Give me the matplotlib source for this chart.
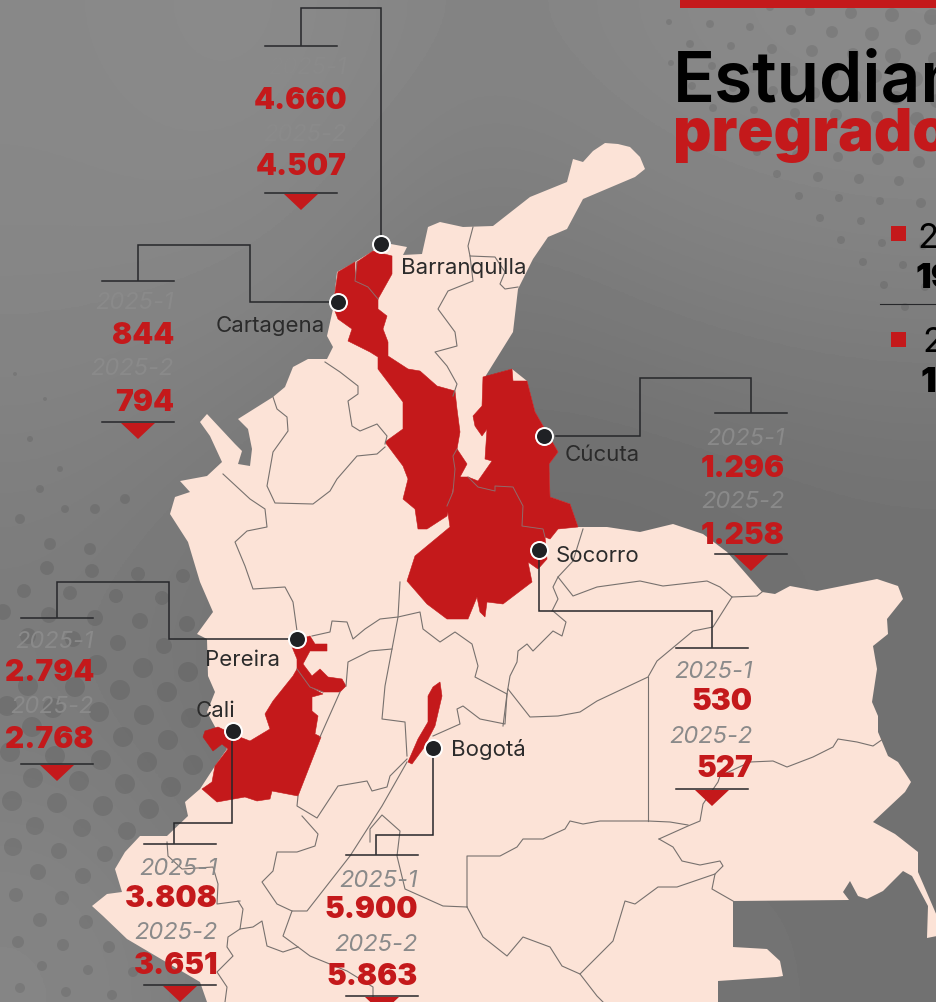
import numpy as np
import matplotlib
matplotlib.use("Agg")
import matplotlib.pyplot as plt
from matplotlib.patches import Polygon

# ---- data ----
cities = ["Barranquilla", "Cartagena", "Cúcuta", "Socorro", "Bogotá", "Cali", "Pereira"]
values_2025_1 = ["4.660", "844", "1.296", "530", "5.900", "3.808", "2.794"]
values_2025_2 = ["4.507", "794", "1.258", "527", "5.863", "3.651", "2.768"]
period_1 = "2025-1"
period_2 = "2025-2"

country = [(605,144),(618,145),(630,148),(640,158),(645,170),(635,178),(583,200),(567,230),(548,238),(533,260),(518,290),(513,333),(485,378),
 (512,370),(527,382),(535,413),(558,453),(549,465),(550,498),(570,505),(578,528),(607,528),(640,533),(673,525),(703,535),
 (727,553),(762,593),(775,595),(790,587),(817,592),(877,580),(898,587),(903,600),(887,620),(888,635),(873,647),(877,670),
 (872,703),(878,717),(878,733),(888,757),(898,763),(911,783),(905,793),(873,823),(895,835),(918,853),(918,873),(937,917),
 (937,937),(927,939),(928,907),(912,877),(903,872),(883,892),(867,900),(858,897),(850,882),(843,893),(849,901),(733,902),
 (733,948),(767,950),(780,962),(783,977),(777,978),(718,982),(718,1003),(207,1003),(200,983),(127,940),(103,917),(92,907),
 (107,895),(122,893),(115,870),(125,853),(140,837),(167,837),(188,817),(185,803),(200,790),(215,767),(227,750),(207,713),
 (215,693),(208,677),(207,640),(197,635),(213,613),(200,583),(188,543),(170,515),(175,498),(190,493),(180,482),(207,477),
 (222,463),(210,437),(200,423),(207,415),(235,445),(242,452),(238,465),(250,467),(252,450),(248,430),(238,420),(273,398),
 (285,388),(293,368),(308,360),(327,360),(333,348),(327,337),(333,310),(337,273),(355,263),(373,252),(380,243),(407,248),
 (403,256),(422,255),(428,228),(440,223),(463,228),(493,227),(530,198),(567,183),(573,160),(583,163),(593,152)]

atlantico = [(373,252),(392,257),(392,275),(378,300),(368,288),(355,282),(357,263)]
bolivar = [(355,263),(355,282),(368,288),(378,300),(378,310),(387,317),(383,330),(388,343),(388,357),(408,370),(420,372),
 (437,387),(455,392),(457,410),(460,433),(457,450),(455,480),(447,517),(427,530),(418,530),(415,510),(403,500),(408,480),
 (403,467),(385,443),(403,430),(403,403),(378,370),(378,358),(370,353),(348,342),(352,330),(338,320),(333,307),(338,273)]
norte = [(483,378),(512,370),(513,382),(527,382),(535,413),(558,453),(549,465),(550,498),(570,505),(578,528),(558,530),
 (550,540),(545,538),(543,530),(522,527),(523,507),(513,488),(495,487),(495,492),(478,488),(468,478),(478,482),(492,462),
 (485,460),(487,430),(482,437),(475,427),(473,417),(482,407)]
santander = [(468,478),(478,488),(495,492),(495,487),(513,488),(523,507),(522,527),(543,530),(545,538),(547,560),(538,570),
 (528,563),(532,583),(503,605),(487,603),(485,618),(480,613),(477,598),(468,620),(447,620),(427,605),(407,582),(415,557),
 (450,528),(447,507),(453,493),(455,470),(453,457),(457,450),(467,465),(460,478)]
risaralda = [(290,643),(310,637),(315,645),(327,645),(327,652),(310,652),(303,665),(312,677),(320,670),(328,678),(342,680),
 (346,687),(340,693),(323,693),(310,688),(297,670),(297,660)]
valle = [(297,670),(310,688),(323,695),(312,698),(312,712),(318,717),(315,735),(321,738),(298,797),(272,792),(270,800),
 (257,802),(245,798),(217,803),(202,790),(212,783),(215,767),(228,750),(222,745),(213,752),(203,738),(205,732),(218,728),
 (237,737),(250,742),(270,730),(265,715),(273,702),(293,677)]
boyaca = [(440,683),(442,697),(435,727),(423,750),(412,765),(408,763),(418,740),(428,723),(428,697),(433,688)]
red_regions = [atlantico, bolivar, norte, santander, risaralda, valle, boyaca]

borders = [
 [(473,228),(468,247),(470,257),(495,258),(505,273),(500,285),(505,290),(518,288)],
 [(470,257),(473,282),(448,292),(438,310),(455,333),(457,347),(435,353),(447,367),(457,385),(453,397)],
 [(325,363),(340,373),(358,387),(358,395),(348,402),(352,427),(360,432),(377,425),(387,437),(385,445)],
 [(385,448),(377,455),(357,457),(337,480),(330,492),(313,505),(275,504),(267,487),(273,453),(288,432),(287,418),(277,410),(273,398)],
 [(223,475),(250,500),(265,510),(267,528),(247,532),(235,543),(245,567),(253,590),(285,588),(293,603),(297,632)],
 [(400,583),(398,618),(392,650),(385,687),(382,720),(405,723),(407,757)],
 [(312,637),(330,633),(332,622),(347,623),(353,640),(365,630),(380,620),(398,618),(420,613),(423,630),(440,643),(455,633),
  (472,645),(478,667),(475,678),(507,695),(510,677),(517,663),(518,652),(527,645),(533,652),(553,632),(562,637),(566,623),(553,612)],
 [(346,687),(348,663),(370,652),(392,650)],
 [(340,693),(320,738)],
 [(407,760),(390,777),(387,788),(372,792),(367,782),(338,787),(317,819),(297,807),(298,797)],
 [(302,817),(318,835),(315,847),(297,853),(277,853),(273,872),(262,883),(277,905),(292,912),(307,912),(350,857),(382,807),(407,763)],
 [(370,843),(370,830),(382,816),(400,832),(397,857),(405,890),(443,907),(467,908)],
 [(292,912),(283,937),(298,948),(310,957),(347,972),(373,988),(373,1003)],
 [(238,902),(243,910),(240,930),(253,928),(262,922),(267,947),(283,953),(298,948)],
 [(240,930),(228,938),(227,948),(233,957),(217,973),(227,988),(225,1003)],
 [(167,843),(168,857),(182,870),(213,868),(218,885),(217,905),(240,902)],
 [(507,695),(503,727)],
 [(433,737),(460,725),(457,710),(463,707),(480,720),(505,725),(507,695)],
 [(467,908),(467,857),(500,857),(517,848),(523,840),(543,840),(565,830),(570,822),(583,825),(600,822),(648,822),(670,823),(688,826)],
 [(659,840),(688,827),(700,822),(703,805),(718,783),(720,777),(750,763),(773,762),(787,768),(813,758),(833,748),(838,740),(857,743),(873,747),(883,740)],
 [(659,840),(673,848),(682,862),(700,866),(720,862),(723,867),(715,875),(712,890),(733,902)],
 [(715,875),(677,888),(658,888),(635,905),(625,902),(613,942),(580,975),(597,997),(603,1003)],
 [(467,908),(483,938),(507,957),(523,938),(550,948),(562,967),(580,975)],
 [(648,678),(648,822)],
 [(508,690),(530,718),(558,717),(580,713),(597,702),(648,678),(657,662),(675,647),(693,632),(713,628),(732,598),(757,597),(762,593)],
 [(583,530),(573,562),(558,578),(553,588),(558,600),(552,612)],
 [(558,578),(573,597),(597,588),(640,582),(663,587),(707,582),(720,588),(732,598)],
]
borders_on_red = [
 [(357,263),(355,282),(368,288),(378,300)],
 [(468,478),(478,488),(495,492),(495,487),(513,488),(523,507),(522,527),(543,530),(545,538)],
 [(457,450),(453,457),(455,470),(453,493),(447,507)],
 [(297,670),(310,688),(323,693)],
]

# dots of the background
dots_left_x = [47,92,138,183,24,70,116,162,3,49,95,140,187,28,73,118,164,97,143,188,28,75,120,167,7,53,99,144,191,32,123,168,10,55,101,147,193,33,79,125,171,12,57,103,149,35,82,127,13,59,105,38,83,16,62,40,86,18,63,109,42,88,133,20,66,112,
               15,45,30,60,40,65,95,20,50,90,125]
dots_left_y = [569,572,575,577,592,594,597,599,613,616,619,622,625,637,640,644,647,666,669,673,687,688,691,693,707,709,713,716,719,728,738,741,753,757,761,763,766,779,782,785,788,802,804,807,810,827,829,832,848,852,855,873,877,896,899,921,923,943,946,948,967,971,973,989,993,996,
               375,400,440,470,490,510,510,520,545,550,500]
dots_left_r = [7,7,7,7,7,7,7,7,8,8,8,8,8,8,8,8,8,10,10,10,10,10,10,10,10,10,10,10,10,10,10,10,10,10,10,10,10,10,10,10,10,10,10,10,10,9,9,9,9,8,8,8,8,7,7,7,7,6,6,6,5,5,5,5,5,5,
               2,2,3,3,4,4,5,5,6,6,5]
dots_right_x = [669,710,750,791,832,872,913,770,810,851,892,932,690,731,772,812,853,893,935,671,712,753,793,833,875,915,692,733,773,814,855,896,937,713,754,795,836,877,917,757,797,838,878,919,777,818,859,899,799,839,880,921,820,861,841,882,923,863,903,884,925,905]
dots_right_y = [23,25,28,31,33,35,38,8,12,14,16,18,45,47,50,52,55,57,60,64,67,70,72,75,77,80,87,89,92,94,97,99,102,109,111,114,116,118,120,153,156,158,160,163,175,178,180,182,197,199,202,204,219,222,241,244,247,263,266,286,288,308]
dots_right_r = [3,4,4,5,6,7,8,4,5,6,7,8,4,4,5,6,6,8,7,3,4,4,5,6,7,8,4,4,5,6,6,7,7,4,4,5,6,6,7,4,5,5,6,6,4,5,5,5,4,4,4,5,4,4,4,4,4,4,4,4,4,4]

RED = "#c4191b"
PEACH = "#fce3d7"
DARK = "#26272a"
GREY = "#8a8a8a"
BORDER = "#77716e"

def fp(size, weight="normal", style="normal"):
    return dict(fontsize=size, fontweight=weight, fontstyle=style, family=["Inter", "Lato", "DejaVu Sans"])

fig = plt.figure(figsize=(9.37, 10.03), dpi=100)
ax = fig.add_axes([0, 0, 1, 1])
ax.set_xlim(0, 937)
ax.set_ylim(1003, 0)
ax.axis("off")

bg = np.array([[0x88,0x8c,0x82,0x88,0x8a],
               [0x86,0x84,0x74,0x7c,0x80],
               [0x7e,0x74,0x6e,0x6c,0x70],
               [0x7a,0x70,0x6e,0x70,0x72],
               [0x86,0x78,0x72,0x74,0x72]], dtype=float) / 255
ax.imshow(bg, extent=(0, 937, 1003, 0), cmap="gray", vmin=0, vmax=1, interpolation="bicubic", aspect="auto", zorder=0)

px2 = lambda r: (2 * np.asarray(r) * 0.72) ** 2
ax.scatter(dots_left_x, dots_left_y, s=px2(dots_left_r), color="black", alpha=0.09, lw=0, zorder=1)
ax.scatter(dots_right_x, dots_right_y, s=px2(dots_right_r), color="black", alpha=0.09, lw=0, zorder=1)

ax.add_patch(Polygon(country, closed=True, fc=PEACH, ec="none", zorder=2))
for reg in red_regions:
    ax.add_patch(Polygon(reg, closed=True, fc=RED, ec=RED, lw=0.4, zorder=3))
for b in borders:
    xs, ys = zip(*b)
    ax.plot(xs, ys, color=BORDER, lw=0.8, zorder=4, solid_joinstyle="round")
for b in borders_on_red:
    xs, ys = zip(*b)
    ax.plot(xs, ys, color="#8f6b6b", lw=0.7, zorder=4, solid_joinstyle="round")

# layout of each call-out
leaders = {
 "Barranquilla": [(381,245),(381,9),(301,9),(301,46)],
 "Cartagena": [(338,303),(250,303),(250,246),(138,246),(138,281)],
 "Cúcuta": [(556,437),(640,437),(640,379),(751,379),(751,413)],
 "Socorro": [(539,551),(539,612),(712,612),(712,648)],
 "Bogotá": [(433,749),(433,836),(376,836),(376,855)],
 "Cali": [(232,732),(232,824),(174,824),(174,844)],
 "Pereira": [(297,640),(169,640),(169,583),(57,583),(57,618)],
}
rows = {  # right edge, y label1, y value1, y label2, y value2, hline-top, hline-bottom, hline x0
 "Barranquilla": (347,68,101,135,167,47,194,265),
 "Cartagena": (174,303,336,369,403,282,423,102),
 "Cúcuta": (785,439,469,502,536,414,555,715),
 "Socorro": (753,672,702,737,769,649,790,676),
 "Bogotá": (418,881,910,945,977,856,997,346),
 "Cali": (218,869,899,933,966,845,986,144),
 "Pereira": (94,642,673,707,740,619,765,21),
}
points = {"Barranquilla":(381,245),"Cartagena":(338,303),"Cúcuta":(544,437),"Socorro":(539,551),"Bogotá":(433,749),"Cali":(233,732),"Pereira":(297,640)}
names = {"Barranquilla":(401,268,"left"),"Cartagena":(325,326,"right"),"Cúcuta":(565,455,"left"),"Socorro":(556,556,"left"),"Bogotá":(451,750,"left"),"Cali":(196,711,"left"),"Pereira":(205,660,"left")}

for i, c in enumerate(cities):
    xs, ys = zip(*leaders[c])
    ax.plot(xs, ys, color=DARK, lw=1.1, zorder=5, solid_joinstyle="miter")
    right, y1, v1, y2, v2, top, bot, x0 = rows[c]
    for yy in (top, bot):
        ax.plot([x0, x0 + 72], [yy, yy], color=DARK, lw=1.1, zorder=5)
    cx = x0 + 36
    ax.add_patch(Polygon([(cx-17, bot+1), (cx+17, bot+1), (cx, bot+17)], closed=True, fc=RED, ec="none", zorder=5))
    ax.text(right, y1, period_1, ha="right", va="center", color=GREY, zorder=6, **fp(17, style="italic"))
    ax.text(right, y2, period_2, ha="right", va="center", color=GREY, zorder=6, **fp(17, style="italic"))
    ax.text(right, v1, values_2025_1[i], ha="right", va="center", color=RED, zorder=6, **fp(21.5, weight="black"))
    ax.text(right, v2, values_2025_2[i], ha="right", va="center", color=RED, zorder=6, **fp(21.5, weight="black"))
    ax.scatter(*points[c], s=px2(9.5), color="white", lw=0, zorder=7)
    ax.scatter(*points[c], s=px2(7.5), color="#1f2124", lw=0, zorder=8)
    nx, ny, ha = names[c]
    ax.text(nx, ny, c, ha=ha, va="center", color="#2b2b2b", zorder=6, **fp(16))

# header
ax.add_patch(Polygon([(680,0),(937,0),(937,9),(680,9)], closed=True, fc=RED, ec="none", zorder=6))
ax.text(673, 101, "Estudian", ha="left", va="baseline", color="black", zorder=6, **fp(50, weight="semibold"))
ax.text(673, 151, "pregrado", ha="left", va="baseline", color=RED, zorder=6, **fp(43, weight="black"))
for y in (227, 333):
    ax.add_patch(Polygon([(891,y),(906,y),(906,y+15),(891,y+15)], closed=True, fc=RED, ec="none", zorder=6))
ax.plot([880,937],[305,305], color=DARK, lw=0.8, zorder=6)
ax.text(917, 248, "2", ha="left", va="baseline", color="black", zorder=6, **fp(25))
ax.text(916, 288, "19", ha="left", va="baseline", color="black", zorder=6, **fp(25, weight="black"))
ax.text(922, 352, "2", ha="left", va="baseline", color="black", zorder=6, **fp(25))
ax.text(921, 392, "1", ha="left", va="baseline", color="black", zorder=6, **fp(25, weight="black"))

fig.savefig("out.png", dpi=100)
